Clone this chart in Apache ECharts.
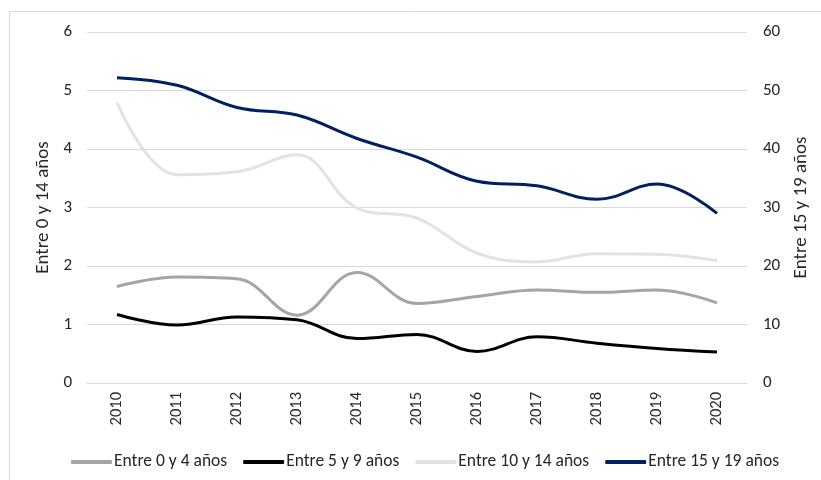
<!DOCTYPE html>
<html>
<head>
<meta charset="utf-8">
<script src="https://cdn.jsdelivr.net/npm/echarts@6/dist/echarts.min.js"></script>
<style>
  html, body { margin: 0; padding: 0; background: #fff; }
  #chart { width: 821px; height: 480px; }
</style>
</head>
<body>
<div id="chart"></div>
<script>
// datos
const years = ["2010", "2011", "2012", "2013", "2014", "2015", "2016", "2017", "2018", "2019", "2020"];
const entre0y4 = [1.65, 1.81, 1.78, 1.16, 1.89, 1.36, 1.48, 1.59, 1.55, 1.59, 1.37];
const entre5y9 = [1.17, 0.99, 1.13, 1.08, 0.76, 0.83, 0.54, 0.79, 0.68, 0.59, 0.53];
const entre10y14 = [4.79, 3.56, 3.61, 3.9, 2.99, 2.82, 2.22, 2.07, 2.21, 2.2, 2.09];
const entre15y19 = [52.2, 50.9, 47.1, 45.8, 41.8, 38.6, 34.5, 33.7, 31.4, 34.0, 29.0];

const font = "Calibri, Carlito, 'Liberation Sans Narrow', 'Liberation Sans', sans-serif";
const textColor = "#262626";
const colors = ["#a5a5a5", "#000000", "#e2e2e2", "#002060"];

const myChart = echarts.init(document.getElementById("chart"));

const line = (name, data, axis) => ({
  name: name,
  type: "line",
  data: data,
  yAxisIndex: axis,
  smooth: 0.4,
  symbol: "none",
  lineStyle: { width: 3 },
});

const option = {
  color: colors,
  animation: false,
  textStyle: { fontFamily: font },
  graphic: [
    {
      type: "rect",
      shape: { x: 9.5, y: 11.5, width: 840, height: 500 },
      style: { fill: "none", stroke: "#d9d9d9", lineWidth: 1 },
      silent: true,
    },
  ],
  grid: { left: 87, right: 74, top: 32, bottom: 97 },
  legend: {
    top: 448,
    left: 66,
    itemWidth: 41,
    itemHeight: 4,
    itemGap: 16,
    icon: "roundRect",
    textStyle: { fontSize: 17.5, color: textColor, fontFamily: font, padding: [0, 0, 0, -3] },
    data: ["Entre 0 y 4 años", "Entre 5 y 9 años", "Entre 10 y 14 años", "Entre 15 y 19 años"],
  },
  xAxis: {
    type: "category",
    boundaryGap: true,
    data: years,
    axisLine: { lineStyle: { color: "#d9d9d9" } },
    axisTick: { show: false },
    axisLabel: { rotate: 90, fontSize: 16.5, color: textColor, margin: 9, fontFamily: font },
  },
  yAxis: [
    {
      type: "value",
      name: "Entre 0 y 14 años",
      nameLocation: "middle",
      nameGap: 31,
      nameTextStyle: { fontSize: 19, color: textColor, fontFamily: font },
      min: 0,
      max: 6,
      interval: 1,
      position: "left",
      axisLine: { show: false },
      axisTick: { show: false },
      axisLabel: { fontSize: 17, color: textColor, margin: 15, fontFamily: font },
      splitLine: { lineStyle: { color: "#d9d9d9" } },
    },
    {
      type: "value",
      name: "Entre 15 y 19 años",
      nameLocation: "middle",
      nameGap: 45,
      nameRotate: 90,
      nameTextStyle: { fontSize: 19, color: textColor, fontFamily: font },
      min: 0,
      max: 60,
      interval: 10,
      position: "right",
      axisLine: { show: false },
      axisTick: { show: false },
      axisLabel: { fontSize: 17, color: textColor, margin: 16, fontFamily: font },
      splitLine: { show: false },
    },
  ],
  series: [
    line("Entre 0 y 4 años", entre0y4, 0),
    line("Entre 5 y 9 años", entre5y9, 0),
    line("Entre 10 y 14 años", entre10y14, 0),
    line("Entre 15 y 19 años", entre15y19, 1),
  ],
};
myChart.setOption(option);
</script>
</body>
</html>
